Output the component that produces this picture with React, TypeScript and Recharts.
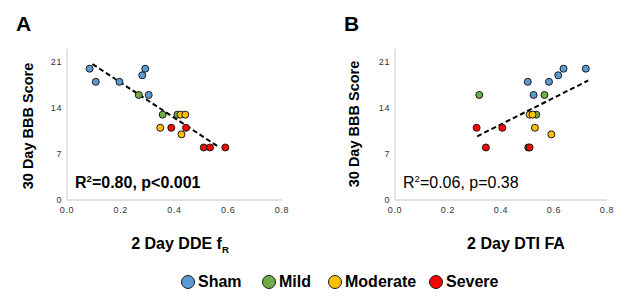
import { ReferenceLine, Scatter, ScatterChart, XAxis, YAxis } from 'recharts'
import type { CSSProperties } from 'react'

// Panel A: 2 Day DDE fR vs 30 Day BBB
const shamA = [
  { x: 0.084, y: 20 }, { x: 0.107, y: 18 }, { x: 0.195, y: 18 },
  { x: 0.28, y: 19 }, { x: 0.291, y: 20 }, { x: 0.304, y: 16 },
]
const mildA = [{ x: 0.267, y: 16 }, { x: 0.356, y: 13 }, { x: 0.411, y: 13 }]
const moderateA = [{ x: 0.347, y: 11 }, { x: 0.423, y: 13 }, { x: 0.44, y: 13 }, { x: 0.426, y: 10 }]
const severeA = [
  { x: 0.388, y: 11 }, { x: 0.443, y: 11 }, { x: 0.509, y: 8 }, { x: 0.532, y: 8 }, { x: 0.589, y: 8 },
]
const trendA = [{ x: 0.095, y: 20.7 }, { x: 0.56, y: 8.2 }]

// Panel B: 2 Day DTI FA vs 30 Day BBB
const shamB = [
  { x: 0.501, y: 18 }, { x: 0.523, y: 16 }, { x: 0.581, y: 18 },
  { x: 0.616, y: 19 }, { x: 0.636, y: 20 }, { x: 0.72, y: 20 },
]
const mildB = [{ x: 0.318, y: 16 }, { x: 0.564, y: 16 }, { x: 0.533, y: 13 }]
const moderateB = [{ x: 0.508, y: 13 }, { x: 0.519, y: 13 }, { x: 0.528, y: 11 }, { x: 0.59, y: 10 }]
const severeB = [
  { x: 0.308, y: 11 }, { x: 0.405, y: 11 }, { x: 0.343, y: 8 }, { x: 0.503, y: 8 }, { x: 0.508, y: 8 },
]
const trendB = [{ x: 0.31, y: 9.7 }, { x: 0.729, y: 18.2 }]

const xTicks = [0, 0.2, 0.4, 0.6, 0.8]
const yTicks = [0, 7, 14, 21]
const groups = ['Sham', 'Mild', 'Moderate', 'Severe']
const colors = ['#5b9bd5', '#70ad47', '#ffc000', '#ff0000']

const FONT = '"Liberation Sans", Arial, Helvetica, sans-serif'
const tickStyle = { fontSize: 9, fill: '#333', fontFamily: FONT, letterSpacing: 0.6 }

const dot = (color: string) => (p: any) => (
  <circle cx={p.cx} cy={p.cy} r={3.5} fill={color} stroke="#1a1a1a" strokeWidth={1} />
)

interface PanelProps {
  series: { x: number; y: number }[][]
  trend: { x: number; y: number }[]
  marginLeft: number
  marginRight: number
}

function Panel({ series, trend, marginLeft, marginRight }: PanelProps) {
  return (
    <ScatterChart
      width={300}
      height={230}
      margin={{ top: 49, right: marginRight, bottom: 5, left: marginLeft }}
    >
      <XAxis
        type="number"
        dataKey="x"
        domain={[0, 0.8]}
        ticks={xTicks}
        tickFormatter={(v) => Number(v).toFixed(1)}
        axisLine={{ stroke: '#c6c6c6' }}
        tickLine={false}
        tick={tickStyle}
        tickSize={5}
        height={25}
      />
      <YAxis
        type="number"
        dataKey="y"
        domain={[0, 23]}
        ticks={yTicks}
        axisLine={{ stroke: '#c6c6c6' }}
        tickLine={false}
        tick={tickStyle}
        tickSize={3}
        width={30}
      />
      {series.map((d, i) => (
        <Scatter key={groups[i]} name={groups[i]} data={d} shape={dot(colors[i])} isAnimationActive={false} />
      ))}
      <ReferenceLine
        segment={trend}
        stroke="#000"
        strokeWidth={2}
        strokeDasharray="5 3"
        ifOverflow="visible"
      />
    </ScatterChart>
  )
}

const abs = (s: CSSProperties): CSSProperties => ({ position: 'absolute', whiteSpace: 'nowrap', ...s })

export default function App() {
  return (
    <div
      style={{ position: 'absolute', left: 0, top: 0, width: 630, height: 305, background: '#fff', fontFamily: FONT, color: '#000' }}
    >
      <div style={abs({ left: 0, top: 0 })}>
        <Panel series={[shamA, mildA, moderateA, severeA]} trend={trendA} marginLeft={37} marginRight={18} />
      </div>
      <div style={abs({ left: 320, top: 0 })}>
        <Panel series={[shamB, mildB, moderateB, severeB]} trend={trendB} marginLeft={45} marginRight={13} />
      </div>

      <div style={abs({ left: 16, top: 12, fontSize: 21, fontWeight: 'bold', lineHeight: '24px' })}>A</div>
      <div style={abs({ left: 344, top: 12, fontSize: 21, fontWeight: 'bold', lineHeight: '24px' })}>B</div>

      <div style={abs({ left: 28, top: 126, fontSize: 14.5, fontWeight: 'bold', transform: 'translate(-50%, -50%) rotate(-90deg)' })}>
        30 Day BBB Score
      </div>
      <div style={abs({ left: 354, top: 124, fontSize: 14.5, fontWeight: 'bold', transform: 'translate(-50%, -50%) rotate(-90deg)' })}>
        30 Day BBB Score
      </div>

      <div style={abs({ left: 180, top: 244, fontSize: 16, fontWeight: 'bold', transform: 'translate(-50%, -50%)' })}>
        2 Day DDE f<sub style={{ fontSize: '0.6em', lineHeight: 0 }}>R</sub>
      </div>
      <div style={abs({ left: 516, top: 244, fontSize: 16, fontWeight: 'bold', transform: 'translate(-50%, -50%)' })}>
        2 Day DTI FA
      </div>

      <div style={abs({ left: 75, top: 174, fontSize: 16, fontWeight: 'bold', lineHeight: '18px' })}>
        R<sup style={{ fontSize: '0.6em', lineHeight: 0 }}>2</sup>=0.80, p&lt;0.001
      </div>
      <div style={abs({ left: 403, top: 174, fontSize: 16, lineHeight: '18px' })}>
        R<sup style={{ fontSize: '0.6em', lineHeight: 0 }}>2</sup>=0.06, p=0.38
      </div>

      {groups.map((g, i) => {
        const lefts = [181, 262, 328, 429]
        return (
          <div key={g} style={abs({ left: lefts[i], top: 273, display: 'flex', alignItems: 'center', height: 18 })}>
            <span
              style={{
                display: 'inline-block', width: 12, height: 12, borderRadius: '50%',
                background: colors[i], border: '1px solid #1a1a1a', marginRight: 3,
              }}
            />
            <span style={{ fontSize: 16, fontWeight: 'bold' }}>{g}</span>
          </div>
        )
      })}
    </div>
  )
}
